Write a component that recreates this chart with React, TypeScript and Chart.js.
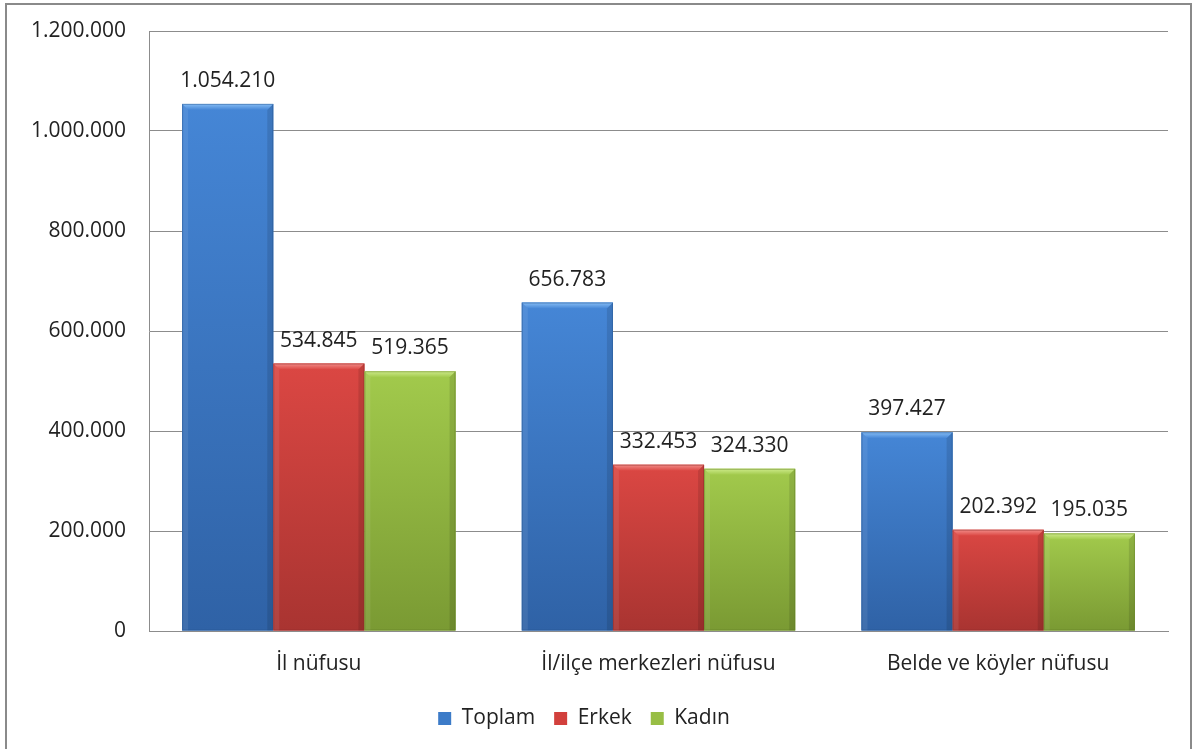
import React, { useEffect, useRef } from 'react';
import { Chart, registerables } from 'chart.js';

Chart.register(...registerables);

const categories = ['İl nüfusu', 'İl/ilçe merkezleri nüfusu', 'Belde ve köyler nüfusu'];
const seriesNames = ['Toplam', 'Erkek', 'Kadın'];
const toplam = [1054210, 656783, 397427];
const erkek = [534845, 332453, 202392];
const kadin = [519365, 324330, 195035];
const yTickValues = [0, 200000, 400000, 600000, 800000, 1000000, 1200000];

const palettes = [
  { base: '#3C7BC8', top: '#4586D6', bottom: '#2F62A6', hi: '#86BDF5', dark: '#24518C' },
  { base: '#D2403C', top: '#DB4743', bottom: '#A93431', hi: '#F28C88', dark: '#8A2A27' },
  { base: '#98BE45', top: '#A2CA4C', bottom: '#7A9A33', hi: '#CDEA8A', dark: '#5F7A24' },
];

const FONT = '"Open Sans", "Liberation Sans", sans-serif';

function fmt(v: number): string {
  const s = Math.round(v).toString();
  return s.replace(/\B(?=(\d{3})+(?!\d))/g, '.');
}

const bevelPlugin = {
  id: 'bevelBars',
  afterDatasetsDraw(chart: any) {
    const ctx: CanvasRenderingContext2D = chart.ctx;
    ctx.save();
    chart.data.datasets.forEach((ds: any, di: number) => {
      const meta = chart.getDatasetMeta(di);
      const pal = palettes[di];
      meta.data.forEach((el: any, i: number) => {
        const p = el.getProps(['x', 'y', 'base', 'width'], true);
        const l = p.x - p.width / 2;
        const r = p.x + p.width / 2;
        const t = p.y;
        const b = p.base;
        const w = r - l;
        const h = b - t;
        const g = ctx.createLinearGradient(0, t, 0, b);
        g.addColorStop(0, pal.top);
        g.addColorStop(1, pal.bottom);
        ctx.fillStyle = g;
        ctx.fillRect(l, t, w, h);
        const bv = 6;
        const gt = ctx.createLinearGradient(0, t, 0, t + bv);
        gt.addColorStop(0, pal.hi);
        gt.addColorStop(1, pal.top);
        ctx.fillStyle = gt;
        ctx.beginPath();
        ctx.moveTo(l, t);
        ctx.lineTo(r, t);
        ctx.lineTo(r - bv, t + bv);
        ctx.lineTo(l + bv, t + bv);
        ctx.closePath();
        ctx.fill();
        ctx.fillStyle = 'rgba(255,255,255,0.08)';
        ctx.beginPath();
        ctx.moveTo(l, t);
        ctx.lineTo(l + bv, t + bv);
        ctx.lineTo(l + bv, b);
        ctx.lineTo(l, b);
        ctx.closePath();
        ctx.fill();
        ctx.fillStyle = 'rgba(0,0,0,0.11)';
        ctx.beginPath();
        ctx.moveTo(r, t);
        ctx.lineTo(r - bv, t + bv);
        ctx.lineTo(r - bv, b);
        ctx.lineTo(r, b);
        ctx.closePath();
        ctx.fill();
        ctx.strokeStyle = pal.dark;
        ctx.globalAlpha = 0.45;
        ctx.lineWidth = 1;
        ctx.strokeRect(l + 0.5, t + 0.5, w - 1, h - 1);
        ctx.globalAlpha = 1;
        ctx.fillStyle = '#222222';
        ctx.font = `21px ${FONT}`;
        ctx.textAlign = 'center';
        ctx.textBaseline = 'alphabetic';
        ctx.fillText(fmt(ds.data[i]), p.x, t - 17);
      });
    });
    ctx.restore();
  },
};

export default function App() {
  const ref = useRef<HTMLCanvasElement | null>(null);

  useEffect(() => {
    if (!ref.current) return;
    const chart = new Chart(ref.current, {
      type: 'bar',
      data: {
        labels: categories,
        datasets: [
          { label: seriesNames[0], data: toplam, backgroundColor: palettes[0].base, borderWidth: 0 },
          { label: seriesNames[1], data: erkek, backgroundColor: palettes[1].base, borderWidth: 0 },
          { label: seriesNames[2], data: kadin, backgroundColor: palettes[2].base, borderWidth: 0 },
        ],
      },
      options: {
        responsive: false,
        animation: false,
        devicePixelRatio: 1,
        layout: { padding: { top: 31, right: 28, left: 0, bottom: 10 } },
        datasets: { bar: { categoryPercentage: 0.805, barPercentage: 1 } },
        plugins: {
          tooltip: { enabled: false },
          legend: {
            position: 'bottom',
            labels: {
              boxWidth: 13,
              boxHeight: 13,
              padding: 19,
              color: '#222222',
              font: { family: FONT, size: 21 },
            },
          },
        },
        scales: {
          x: {
            grid: { display: false, drawTicks: false },
            border: { display: true, color: '#8c8c8c', width: 1 },
            ticks: { color: '#222222', font: { family: FONT, size: 21 }, padding: 20, maxRotation: 0 },
            afterFit: (scale: any) => {
              scale.height = 58;
              scale.paddingLeft = 0;
              scale.paddingRight = 0;
            },
          },
          y: {
            min: 0,
            max: 1200000,
            afterBuildTicks: (scale: any) => {
              scale.ticks = yTickValues.map((v) => ({ value: v }));
            },
            grid: { color: '#8c8c8c', lineWidth: 1, drawTicks: false },
            border: { display: true, color: '#8c8c8c', width: 1 },
            ticks: {
              color: '#222222',
              font: { family: FONT, size: 21 },
              padding: 23,
              callback: (v: any) => fmt(Number(v)),
            },
            afterFit: (scale: any) => {
              scale.width = 149;
              scale.paddingTop = 0;
              scale.paddingBottom = 0;
            },
          },
        },
      },
      plugins: [bevelPlugin],
    } as any);
    return () => chart.destroy();
  }, []);

  return (
    <div
      style={{
        position: 'fixed',
        left: 0,
        top: 0,
        width: 1196,
        height: 749,
        overflow: 'hidden',
        background: '#ffffff',
      }}
    >
      <div
        style={{
          position: 'absolute',
          left: 5,
          top: 3,
          width: 1187,
          height: 800,
          border: '2px solid #8a8a8a',
          boxSizing: 'border-box',
        }}
      />
      <canvas ref={ref} width={1196} height={749} style={{ position: 'absolute', left: 0, top: 0 }} />
    </div>
  );
}
